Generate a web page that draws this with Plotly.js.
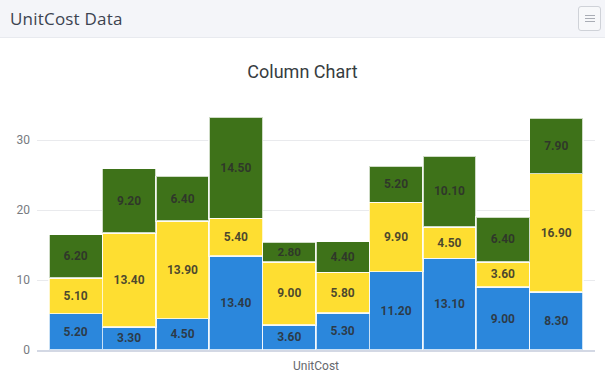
<!DOCTYPE html>
<html>
<head>
<meta charset="utf-8">
<script src="https://cdn.plot.ly/plotly-3.0.1.min.js"></script>
<style>
  html, body { margin: 0; padding: 0; background: #fff; width: 605px; height: 381px; overflow: hidden; }
  #header { position: absolute; left: 0; top: 0; width: 605px; height: 37px; background: #f4f5f9; border-bottom: 1px solid #e8eaef; }
  #header .title { position: absolute; left: 10px; top: 7px; font-family: "Open Sans", sans-serif; font-size: 17px; color: #3c4350; font-weight: 500; letter-spacing: 0.2px; }
  #header .menu { position: absolute; left: 578px; top: 6px; width: 21px; height: 23px; border: 1px solid #cfd2d8; border-radius: 3px; background: #f7f8fa; }
  #header .menu span { position: absolute; left: 6px; width: 10px; height: 1px; background: #a9adb5; }
  #chart { position: absolute; left: 0; top: 38px; width: 605px; height: 343px; }
</style>
</head>
<body>
<div id="header">
  <div class="title">UnitCost Data</div>
  <div class="menu"><span style="top:8px"></span><span style="top:11px"></span><span style="top:14px"></span></div>
</div>
<div id="chart"></div>
<script>
const categories = ['1','2','3','4','5','6','7','8','9','10'];
const blueValues   = [5.20, 3.30, 4.50, 13.40, 3.60, 5.30, 11.20, 13.10, 9.00, 8.30];
const yellowValues = [5.10, 13.40, 13.90, 5.40, 9.00, 5.80, 9.90, 4.50, 3.60, 16.90];
const greenValues  = [6.20, 9.20, 6.40, 14.50, 2.80, 4.40, 5.20, 10.10, 6.40, 7.90];
const seriesNames = ['Series 1', 'Series 2', 'Series 3'];
const seriesColors = ['#2b87dc', '#fede31', '#3e7219'];
const yTicks = [0, 10, 20, 30];

const xIdx = categories.map((c, i) => i);
function mk(vals, name, color) {
  return {
    type: 'bar', x: xIdx, y: vals, name: name,
    marker: { color: color, line: { color: 'rgba(255,255,255,0.75)', width: 1.5 } },
    text: vals.map(v => v.toFixed(2)),
    textposition: 'inside', insidetextanchor: 'middle',
    textfont: { family: 'Roboto, sans-serif', size: 12, color: 'rgba(45,45,45,0.85)', weight: 'bold' },
    hoverinfo: 'none'
  };
}
const data = [
  mk(blueValues, seriesNames[0], seriesColors[0]),
  mk(yellowValues, seriesNames[1], seriesColors[1]),
  mk(greenValues, seriesNames[2], seriesColors[2])
];
const layout = {
  width: 605, height: 343,
  margin: { l: 37, r: 10, t: 74, b: 31 },
  paper_bgcolor: '#ffffff', plot_bgcolor: '#ffffff',
  barmode: 'stack', bargap: 0,
  showlegend: false,
  title: { text: 'Column Chart', x: 0.5, xanchor: 'center', y: 1 - 34/343, yanchor: 'middle', yref: 'container',
           font: { family: 'Roboto, sans-serif', size: 18, color: '#373d3f' } },
  xaxis: {
    range: [-0.725, 9.725], showticklabels: false, ticks: '', showgrid: false, zeroline: false,
    showline: true, linecolor: '#d3d8e4', linewidth: 1.5,
    tickvals: xIdx, ticktext: categories,
    title: { text: 'UnitCost', standoff: 11, font: { family: 'Roboto, sans-serif', size: 12, color: '#66696e' } }
  },
  yaxis: {
    range: [0, 34], tickvals: yTicks, ticktext: yTicks.map(String), showgrid: true, gridcolor: '#e9eaed', gridwidth: 1,
    zeroline: false, showline: false, ticks: '', ticklabelstandoff: 6,
    tickfont: { family: 'Roboto, sans-serif', size: 12, color: '#777a80' }
  }
};
Plotly.newPlot('chart', data, layout, { displayModeBar: false, staticPlot: true });
</script>
</body>
</html>
